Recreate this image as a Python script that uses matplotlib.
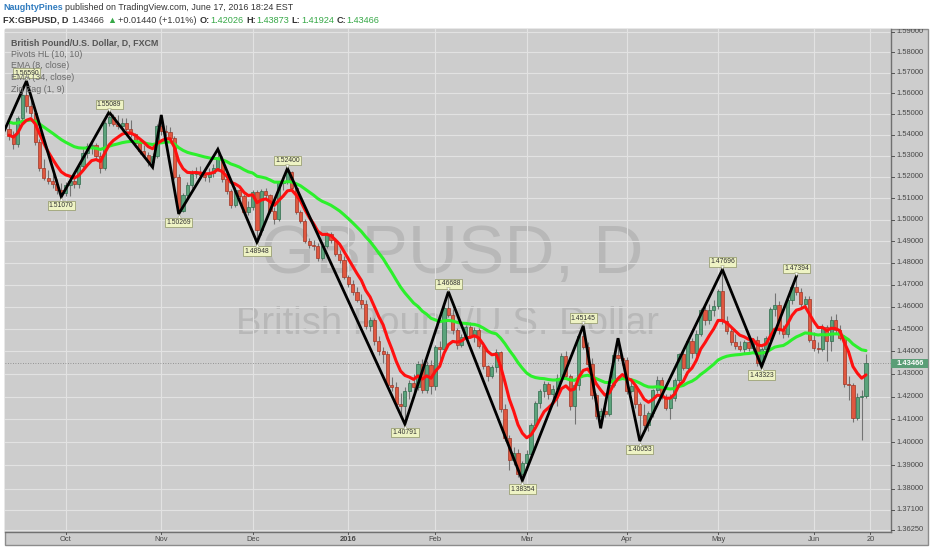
import matplotlib
matplotlib.use('Agg')
import matplotlib.pyplot as plt
from matplotlib.patches import Rectangle
from matplotlib.transforms import offset_copy
import numpy as np
import pandas as pd

plt.rcParams['font.family'] = ['Liberation Sans', 'DejaVu Sans']

# ---- data: GBPUSD daily, FXCM (Sep 14 2015 - Jun 17 2016) ----
dates = pd.bdate_range('2015-09-14', '2016-06-17')
dates = dates.drop([pd.Timestamp('2015-12-25'), pd.Timestamp('2016-01-01')])

opens = [
    1.5430, 1.5392, 1.5358, 1.5478, 1.5590, 1.5540, 1.5505, 1.5368, 1.5240, 1.5195,
    1.5180, 1.5165, 1.5140, 1.5125, 1.5160, 1.5180, 1.5165, 1.5250, 1.5312, 1.5345,
    1.5352, 1.5300, 1.5240, 1.5455, 1.5485, 1.5450, 1.5440, 1.5455, 1.5430, 1.5405,
    1.5360, 1.5325, 1.5305, 1.5270, 1.5300, 1.5440, 1.5420, 1.5415, 1.5383, 1.5202,
    1.5040, 1.5115, 1.5160, 1.5215, 1.5225, 1.5210, 1.5200, 1.5220, 1.5240, 1.5285,
    1.5190, 1.5132, 1.5070, 1.5140, 1.5110, 1.5035, 1.5060, 1.5130, 1.4950, 1.5135,
    1.5115, 1.5040, 1.5005, 1.5170, 1.5180, 1.5222, 1.5150, 1.5035, 1.4995, 1.4902,
    1.4885, 1.4878, 1.4822, 1.4880, 1.4935, 1.4905, 1.4840, 1.4815, 1.4735, 1.4705,
    1.4668, 1.4630, 1.4612, 1.4515, 1.4540, 1.4445, 1.4400, 1.4390, 1.4252, 1.4240,
    1.4165, 1.4160, 1.4225, 1.4260, 1.4240, 1.4345, 1.4228, 1.4340, 1.4245, 1.4420,
    1.4410, 1.4595, 1.4565, 1.4495, 1.4430, 1.4465, 1.4510, 1.4470, 1.4495, 1.4425,
    1.4335, 1.4290, 1.4330, 1.4398, 1.4145, 1.4020, 1.3925, 1.3955, 1.3865, 1.3910,
    1.3950, 1.4075, 1.4170, 1.4225, 1.4255, 1.4210, 1.4235, 1.4280, 1.4378, 1.4290,
    1.4160, 1.4250, 1.4470, 1.4420, 1.4345, 1.4205, 1.4115, 1.4135, 1.4125, 1.4250,
    1.4385, 1.4370, 1.4360, 1.4225, 1.4245, 1.4165, 1.4120, 1.4075, 1.4128, 1.4228,
    1.4272, 1.4200, 1.4150, 1.4195, 1.4272, 1.4388, 1.4325, 1.4445, 1.4395, 1.4480,
    1.4585, 1.4540, 1.4585, 1.4605, 1.4672, 1.4536, 1.4491, 1.4443, 1.4425, 1.4410,
    1.4440, 1.4415, 1.4450, 1.4347, 1.4410, 1.4459, 1.4592, 1.4610, 1.4495, 1.4478,
    1.4630, 1.4692, 1.4668, 1.4612, 1.4638, 1.4452, 1.4415, 1.4410, 1.4510, 1.4445,
    1.4540, 1.4496, 1.4460, 1.4255, 1.4250, 1.4105, 1.4200, 1.42026,
]
highs = [
    1.5462, 1.5420, 1.5490, 1.5615, 1.5659, 1.5565, 1.5525, 1.5380, 1.5285, 1.5235,
    1.5215, 1.5190, 1.5170, 1.5175, 1.5210, 1.5220, 1.5265, 1.5330, 1.5360, 1.5375,
    1.5360, 1.5320, 1.5465, 1.5509, 1.5500, 1.5495, 1.5480, 1.5480, 1.5470, 1.5410,
    1.5385, 1.5350, 1.5320, 1.5315, 1.5450, 1.5495, 1.5445, 1.5435, 1.5395, 1.5215,
    1.5125, 1.5175, 1.5235, 1.5245, 1.5250, 1.5230, 1.5240, 1.5260, 1.5331, 1.5300,
    1.5200, 1.5145, 1.5155, 1.5150, 1.5120, 1.5085, 1.5140, 1.5140, 1.5145, 1.5150,
    1.5120, 1.5060, 1.5180, 1.5210, 1.5240, 1.5228, 1.5160, 1.5045, 1.5005, 1.4915,
    1.4905, 1.4890, 1.4890, 1.4945, 1.4945, 1.4915, 1.4860, 1.4830, 1.4745, 1.4720,
    1.4690, 1.4660, 1.4630, 1.4555, 1.4550, 1.4470, 1.4420, 1.4400, 1.4285, 1.4265,
    1.4215, 1.4240, 1.4275, 1.4300, 1.4355, 1.4365, 1.4355, 1.4360, 1.4430, 1.4445,
    1.4605, 1.4669, 1.4590, 1.4505, 1.4480, 1.4520, 1.4530, 1.4510, 1.4505, 1.4440,
    1.4340, 1.4340, 1.4410, 1.4400, 1.4165, 1.4030, 1.3980, 1.3970, 1.3920, 1.3965,
    1.4085, 1.4180, 1.4235, 1.4270, 1.4265, 1.4250, 1.4300, 1.4395, 1.4400, 1.4300,
    1.4260, 1.4480, 1.4515, 1.4440, 1.4370, 1.4215, 1.4150, 1.4160, 1.4260, 1.4395,
    1.4459, 1.4385, 1.4375, 1.4270, 1.4255, 1.4175, 1.4165, 1.4135, 1.4235, 1.4290,
    1.4285, 1.4210, 1.4210, 1.4280, 1.4395, 1.4405, 1.4460, 1.4460, 1.4495, 1.4595,
    1.4600, 1.4615, 1.4630, 1.4680, 1.4770, 1.4560, 1.4505, 1.4480, 1.4445, 1.4450,
    1.4460, 1.4460, 1.4470, 1.4420, 1.4470, 1.4600, 1.4665, 1.4625, 1.4520, 1.4640,
    1.4700, 1.4739, 1.4685, 1.4650, 1.4650, 1.4485, 1.4440, 1.4525, 1.4520, 1.4560,
    1.4570, 1.4520, 1.4475, 1.4290, 1.4260, 1.4215, 1.4230, 1.43873,
]
lows = [
    1.5375, 1.5332, 1.5340, 1.5462, 1.5510, 1.5485, 1.5350, 1.5228, 1.5185, 1.5165,
    1.5150, 1.5120, 1.5107, 1.5110, 1.5112, 1.5150, 1.5150, 1.5235, 1.5290, 1.5310,
    1.5280, 1.5220, 1.5235, 1.5440, 1.5440, 1.5430, 1.5420, 1.5420, 1.5390, 1.5340,
    1.5310, 1.5290, 1.5250, 1.5246, 1.5290, 1.5400, 1.5395, 1.5370, 1.5190, 1.5027,
    1.5035, 1.5095, 1.5150, 1.5195, 1.5195, 1.5180, 1.5175, 1.5200, 1.5230, 1.5175,
    1.5120, 1.5055, 1.5060, 1.5095, 1.5025, 1.5020, 1.5045, 1.4895, 1.4930, 1.5090,
    1.5030, 1.4980, 1.4995, 1.5140, 1.5165, 1.5140, 1.5025, 1.4985, 1.4890, 1.4870,
    1.4860, 1.4810, 1.4815, 1.4870, 1.4890, 1.4830, 1.4800, 1.4725, 1.4690, 1.4655,
    1.4620, 1.4595, 1.4500, 1.4490, 1.4430, 1.4385, 1.4350, 1.4240, 1.4225, 1.4150,
    1.4110, 1.4079, 1.4190, 1.4215, 1.4230, 1.4215, 1.4215, 1.4210, 1.4230, 1.4350,
    1.4400, 1.4555, 1.4480, 1.4410, 1.4420, 1.4455, 1.4460, 1.4440, 1.4415, 1.4320,
    1.4270, 1.4280, 1.4310, 1.4130, 1.4005, 1.3880, 1.3900, 1.3850, 1.3835, 1.3880,
    1.3935, 1.4060, 1.4150, 1.4200, 1.4190, 1.4180, 1.4160, 1.4260, 1.4280, 1.4140,
    1.4080, 1.4230, 1.4410, 1.4330, 1.4190, 1.4100, 1.4061, 1.4110, 1.4115, 1.4240,
    1.4355, 1.4340, 1.4210, 1.4215, 1.4150, 1.4005, 1.4060, 1.4050, 1.4110, 1.4215,
    1.4190, 1.4140, 1.4100, 1.4180, 1.4260, 1.4315, 1.4310, 1.4370, 1.4380, 1.4470,
    1.4520, 1.4525, 1.4560, 1.4590, 1.4525, 1.4480, 1.4430, 1.4410, 1.4400, 1.4395,
    1.4400, 1.4395, 1.4335, 1.4332, 1.4395, 1.4440, 1.4560, 1.4480, 1.4460, 1.4465,
    1.4615, 1.4655, 1.4600, 1.4590, 1.4440, 1.4400, 1.4395, 1.4400, 1.4355, 1.4400,
    1.4480, 1.4450, 1.4240, 1.4185, 1.4090, 1.4095, 1.4010, 1.41924,
]
closes = [
    1.5392, 1.5358, 1.5478, 1.5590, 1.5540, 1.5505, 1.5368, 1.5240, 1.5195, 1.5180,
    1.5165, 1.5140, 1.5125, 1.5160, 1.5180, 1.5165, 1.5250, 1.5312, 1.5345, 1.5352,
    1.5300, 1.5240, 1.5455, 1.5485, 1.5450, 1.5440, 1.5455, 1.5430, 1.5405, 1.5360,
    1.5325, 1.5305, 1.5270, 1.5300, 1.5440, 1.5420, 1.5415, 1.5383, 1.5202, 1.5040,
    1.5115, 1.5160, 1.5215, 1.5225, 1.5210, 1.5200, 1.5220, 1.5240, 1.5285, 1.5190,
    1.5132, 1.5070, 1.5140, 1.5110, 1.5035, 1.5060, 1.5130, 1.4950, 1.5135, 1.5115,
    1.5040, 1.5005, 1.5170, 1.5180, 1.5222, 1.5150, 1.5035, 1.4995, 1.4902, 1.4885,
    1.4878, 1.4822, 1.4880, 1.4935, 1.4905, 1.4840, 1.4815, 1.4735, 1.4705, 1.4668,
    1.4630, 1.4612, 1.4515, 1.4540, 1.4445, 1.4400, 1.4390, 1.4252, 1.4240, 1.4165,
    1.4160, 1.4225, 1.4260, 1.4240, 1.4345, 1.4228, 1.4340, 1.4245, 1.4420, 1.4410,
    1.4595, 1.4565, 1.4495, 1.4430, 1.4465, 1.4510, 1.4470, 1.4495, 1.4425, 1.4335,
    1.4290, 1.4330, 1.4398, 1.4145, 1.4020, 1.3925, 1.3955, 1.3865, 1.3910, 1.3950,
    1.4075, 1.4170, 1.4225, 1.4255, 1.4210, 1.4235, 1.4280, 1.4378, 1.4290, 1.4160,
    1.4250, 1.4470, 1.4420, 1.4345, 1.4205, 1.4115, 1.4135, 1.4125, 1.4250, 1.4385,
    1.4370, 1.4360, 1.4225, 1.4245, 1.4165, 1.4120, 1.4075, 1.4128, 1.4228, 1.4272,
    1.4200, 1.4150, 1.4195, 1.4272, 1.4388, 1.4325, 1.4445, 1.4395, 1.4480, 1.4585,
    1.4540, 1.4585, 1.4605, 1.4672, 1.4536, 1.4491, 1.4443, 1.4425, 1.4410, 1.4440,
    1.4415, 1.4450, 1.4347, 1.4410, 1.4459, 1.4592, 1.4610, 1.4495, 1.4478, 1.4630,
    1.4692, 1.4668, 1.4612, 1.4638, 1.4452, 1.4415, 1.4410, 1.4510, 1.4445, 1.4540,
    1.4496, 1.4460, 1.4255, 1.4250, 1.4105, 1.4200, 1.4203, 1.43466,
]

# EMA levels carried in from before the visible window
ema8_start = 1.5400
ema34_start = 1.5465

# Zig Zag (1, 9) turning points: bar index, price
zz_bars = [-2, 4, 12, 23, 33, 35, 39, 48, 57, 64, 91, 101, 118, 132, 136, 140, 145, 164, 173, 181]
zz_prices = [1.5377, 1.56590, 1.51070, 1.55089, 1.5246, 1.5495, 1.50269, 1.5331, 1.48948, 1.52400,
             1.40791, 1.46688, 1.38354, 1.45145, 1.4061, 1.4459, 1.40053, 1.47696, 1.43323, 1.47394]

# Pivots HL (10, 10) labels: bar index, price, high/low
pivot_bars = [4, 12, 23, 39, 57, 64, 91, 101, 118, 132, 145, 164, 173, 181]
pivot_prices = [1.56590, 1.51070, 1.55089, 1.50269, 1.48948, 1.52400, 1.40791,
                1.46688, 1.38354, 1.45145, 1.40053, 1.47696, 1.43323, 1.47394]
pivot_kind = ['H', 'L', 'H', 'L', 'L', 'H', 'L', 'H', 'L', 'H', 'L', 'H', 'L', 'H']

price_ticks = [1.3625, 1.371, 1.38, 1.39, 1.40, 1.41, 1.42, 1.43, 1.44, 1.45, 1.46, 1.47,
               1.48, 1.49, 1.50, 1.51, 1.52, 1.53, 1.54, 1.55, 1.56, 1.57, 1.58, 1.59]
last_price = 1.43466

# ---- style ----
W, H = 932, 550
BG = '#cdcdcd'
GRID = '#e2e2e2'
UP, UP_EDGE = '#5ba37b', '#2f6b4c'
DN, DN_EDGE = '#e0573f', '#9e3626'
WICK = '#737373'
TXT = '#474747'


def fx(px):
    return px / W


def fy(py):
    return 1 - py / H


def ema(values, span, seed):
    s = pd.Series([seed] + list(values))
    return s.ewm(span=span, adjust=False).mean().to_numpy()[1:]


fig = plt.figure(figsize=(W / 100, H / 100), dpi=100, facecolor='white')

# chart frame (drawn behind the axes)
fig.patches.append(Rectangle((fx(4.7), fy(545)), fx(928) - fx(4.7), fy(29) - fy(545),
                             transform=fig.transFigure, facecolor=BG, edgecolor='#8c8c8c',
                             lw=1.0, zorder=-10))

X_LEFT, X_RIGHT = -1.0, 202.75
Y_LOW, Y_HIGH = 1.36172, 1.59134

ax = fig.add_axes([fx(4.7), fy(531.7), fx(891) - fx(4.7), fy(29) - fy(531.7)])
ax.set_facecolor(BG)
ax.set_yscale('log')
ax.set_ylim(Y_LOW, Y_HIGH)
ax.set_xlim(X_LEFT, X_RIGHT)

# month ticks from the dates
month_pos, month_lbl = [], []
for i in range(1, len(dates)):
    d = dates[i]
    if d.month != dates[i - 1].month:
        month_pos.append(i)
        month_lbl.append(str(d.year) if d.month == 1 else d.strftime('%b'))
month_pos.append(len(dates))   # next session, Jun 20
month_lbl.append('20')

ax.set_yticks(price_ticks)
ax.minorticks_off()
ax.set_xticks(month_pos)
ax.tick_params(left=False, bottom=False, labelleft=False, labelbottom=False)
ax.grid(True, color=GRID, lw=0.8, zorder=0)
for s in ['top', 'left']:
    ax.spines[s].set_visible(False)
for s in ['right', 'bottom']:
    ax.spines[s].set_color('#707070')
    ax.spines[s].set_linewidth(1.0)

# watermark
ax.text(0.505, 0.55, 'GBPUSD, D', transform=ax.transAxes, fontsize=50, color='#b8b8b8',
        ha='center', va='center', zorder=1)
ax.text(0.50, 0.413, 'British Pound/U.S. Dollar', transform=ax.transAxes, fontsize=27.5,
        color='#b8b8b8', ha='center', va='center', zorder=1)

# candles
o = np.array(opens)
h = np.array(highs)
l = np.array(lows)
c = np.array(closes)
x = np.arange(len(c))
up = c >= o
bottom = np.minimum(o, c)
height = np.maximum(np.abs(c - o), 0.00012)
ax.vlines(x, l, h, color=WICK, lw=0.8, zorder=2)
ax.bar(x[up], height[up], bottom=bottom[up], width=0.72, color=UP, edgecolor=UP_EDGE, lw=0.5, zorder=3)
ax.bar(x[~up], height[~up], bottom=bottom[~up], width=0.72, color=DN, edgecolor=DN_EDGE, lw=0.5, zorder=3)

# last price line
ax.axhline(last_price, color='#808080', lw=0.6, ls=(0, (1, 2)), zorder=2)

# EMAs
ema8 = ema(closes, 8, ema8_start)
ema34 = ema(closes, 34, ema34_start)
ax.plot(x, ema34, color='#2cf02c', lw=2.2, zorder=4, solid_capstyle='round')
ax.plot(x, ema8, color='#ff1010', lw=2.2, zorder=4, solid_capstyle='round')

# zig zag
ax.plot(zz_bars, zz_prices, color='black', lw=2.0, zorder=5, solid_joinstyle='miter')

# pivot labels
up_tri = offset_copy(ax.transData, fig=fig, x=0, y=-2.5, units='dots')
dn_tri = offset_copy(ax.transData, fig=fig, x=0, y=2.5, units='dots')
for b, p, k in zip(pivot_bars, pivot_prices, pivot_kind):
    dy = 5.6 if k == 'H' else -6.2
    ax.annotate(f'{p:.5f}', xy=(b, p), xytext=(0, dy), textcoords='offset points',
                ha='center', va='center', fontsize=4.9, color='#333333', zorder=7,
                bbox=dict(boxstyle='square,pad=0.18', fc='#eef3c4', ec='#8e9466', lw=0.5))
    if k == 'H':
        ax.plot([b], [p], marker='v', ms=2.6, color='#f4f4f4', mec='#8e9466', mew=0.3,
                transform=dn_tri, zorder=7)
    else:
        ax.plot([b], [p], marker='^', ms=2.6, color='#f4f4f4', mec='#8e9466', mew=0.3,
                transform=up_tri, zorder=7)

# right price scale
ax_r = fig.add_axes([fx(891), fy(531.7), fx(928) - fx(891), fy(29) - fy(531.7)])
ax_r.set_yscale('log')
ax_r.set_ylim(Y_LOW, Y_HIGH)
ax_r.set_xlim(0, 1)
ax_r.axis('off')
for p in price_ticks:
    ax_r.plot([0, 0.08], [p, p], color='#555555', lw=0.7, clip_on=True)
    ax_r.text(0.15, p, f'{p:.5f}', fontsize=5.4, color=TXT, ha='left', va='center', clip_on=True)
k = np.exp(4.6 / 3226)
ax_r.add_patch(Rectangle((0, last_price / k), 1, last_price * k - last_price / k,
                         facecolor='#5b9e77', edgecolor='none', zorder=5))
ax_r.text(0.15, last_price, f'{last_price:.5f}', fontsize=5.4, color='white',
          fontweight='bold', ha='left', va='center', zorder=6)

# bottom time scale
ax_b = fig.add_axes([fx(4.7), fy(545), fx(891) - fx(4.7), fy(531.7) - fy(545)])
ax_b.set_xlim(X_LEFT, X_RIGHT)
ax_b.set_ylim(0, 1)
ax_b.axis('off')
for p, lbl in zip(month_pos, month_lbl):
    ax_b.plot([p, p], [1, 0.8], color='#555555', lw=0.7)
    ax_b.text(p, 0.42, lbl, fontsize=5.4, color=TXT, ha='center', va='center',
              fontweight='bold' if len(lbl) == 4 and lbl.isdigit() else 'normal')

# legend in the pane
fig.text(fx(10.7), fy(42.7), 'British Pound/U.S. Dollar, D, FXCM', fontsize=6.4,
         fontweight='bold', color='#555555', ha='left', va='center', zorder=8)
for j, s in enumerate(['Pivots HL (10, 10)', 'EMA (8, close)', 'EMA (34, close)', 'Zig Zag (1, 9)']):
    fig.text(fx(10.7), fy(54.3 + 11.7 * j), s, fontsize=6.4, color='#6a6a6a',
             ha='left', va='center', zorder=8)

# header lines
renderer = fig.canvas.get_renderer()


def text_run(x_px, y_px, pieces, size):
    xp = x_px
    for s, color, weight, gap in pieces:
        t = fig.text(fx(xp), fy(y_px), s, fontsize=size, color=color, fontweight=weight,
                     ha='left', va='center')
        xp += t.get_window_extent(renderer=renderer).width + gap


DARK = '#333333'
GREEN = '#36a847'
text_run(3.3, 7.5, [('NaughtyPines', '#2f7bbf', 'bold', 2.5),
                    ('published on TradingView.com, June 17, 2016 18:24 EST', DARK, 'normal', 0)], 6.4)
text_run(3.3, 20.5, [('FX:GBPUSD, D', DARK, 'bold', 2.6),
                     ('1.43466', DARK, 'normal', 2.6),
                     ('\u25b2', GREEN, 'normal', 2.6),
                     ('+0.01440 (+1.01%)', DARK, 'normal', 2.6),
                     ('O:', DARK, 'bold', 0.5), ('1.42026', GREEN, 'normal', 2.6),
                     ('H:', DARK, 'bold', 0.5), ('1.43873', GREEN, 'normal', 2.6),
                     ('L:', DARK, 'bold', 0.5), ('1.41924', GREEN, 'normal', 2.6),
                     ('C:', DARK, 'bold', 0.5), ('1.43466', GREEN, 'normal', 0)], 6.6)

fig.savefig('out.png', dpi=100, facecolor='white')
